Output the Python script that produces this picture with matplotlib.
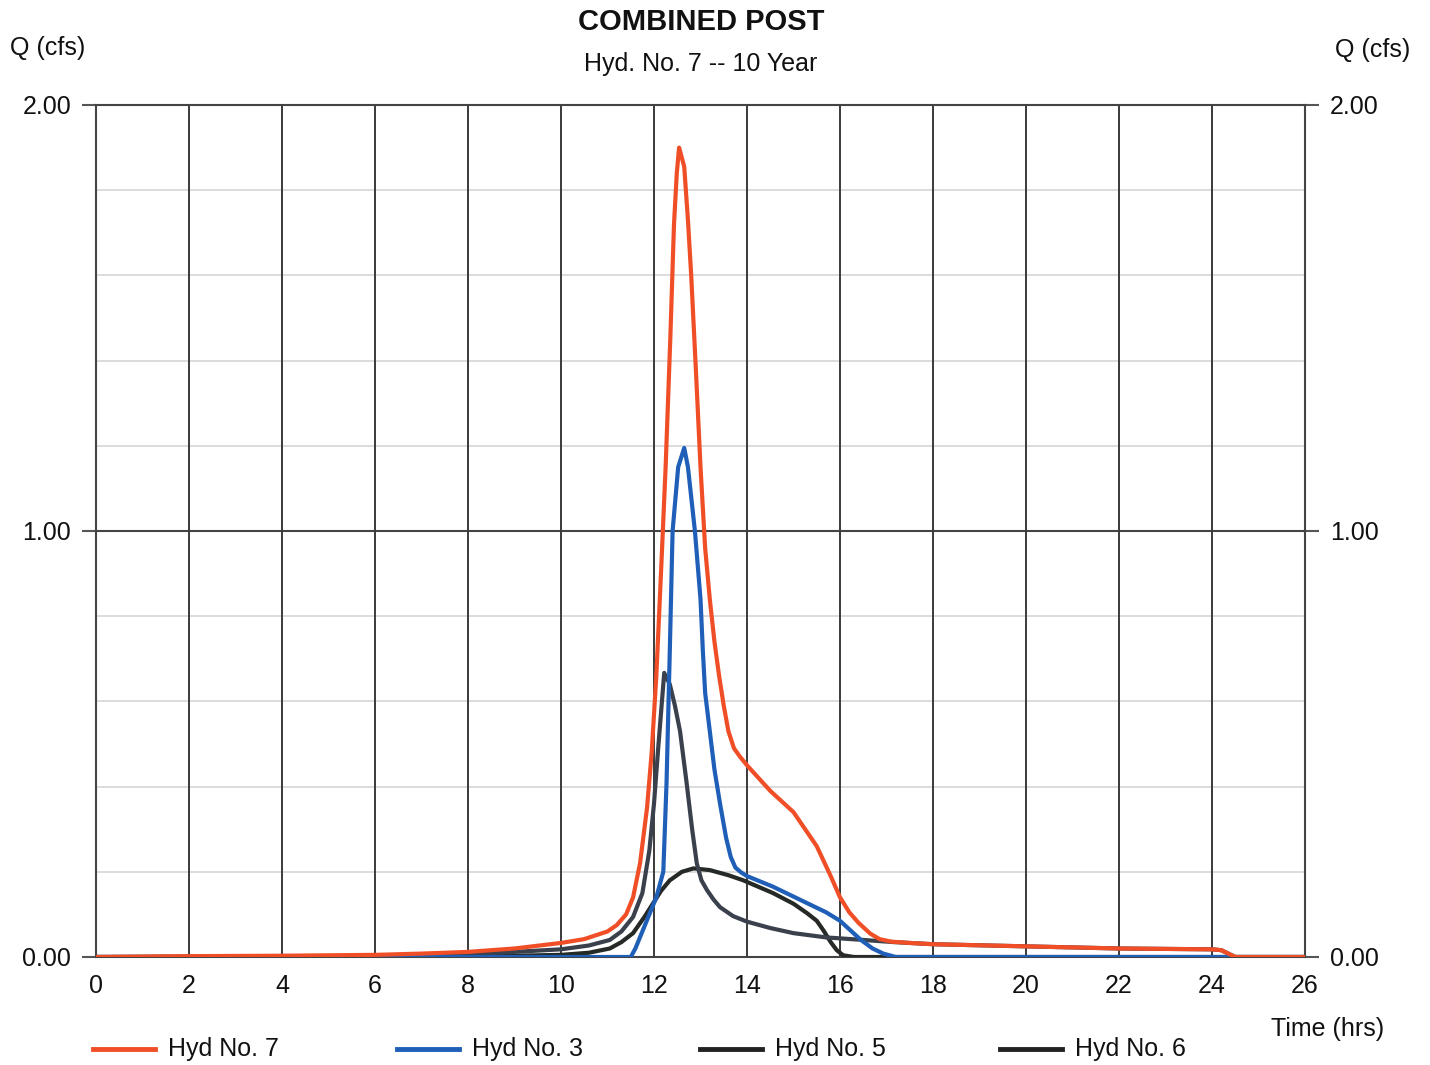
import matplotlib
matplotlib.use("Agg")
import matplotlib.pyplot as plt
from matplotlib.lines import Line2D

plt.rcParams['font.family'] = ['Liberation Sans', 'DejaVu Sans']

# ---- data ----
t7 = [0, 2, 4, 6, 7, 8, 9, 10, 10.5, 11, 11.2, 11.4, 11.55, 11.7, 11.85, 11.95, 12.05, 12.15,
      12.25, 12.35, 12.43, 12.49, 12.54, 12.65, 12.73, 12.8, 12.9, 13.0, 13.1, 13.2, 13.3, 13.4,
      13.5, 13.6, 13.72, 13.85, 14.0, 14.5, 15.0, 15.5, 15.8, 16.0, 16.2, 16.4, 16.65, 16.85,
      17.1, 17.5, 18.0, 20.0, 22.0, 24.0, 24.2, 24.5, 26]
q7 = [0.0, 0.002, 0.003, 0.005, 0.008, 0.012, 0.02, 0.033, 0.042, 0.06, 0.075, 0.10, 0.14, 0.22,
      0.35, 0.48, 0.66, 0.90, 1.15, 1.45, 1.72, 1.84, 1.90, 1.855, 1.73, 1.60, 1.38, 1.15, 0.96,
      0.84, 0.74, 0.66, 0.59, 0.53, 0.49, 0.47, 0.45, 0.39, 0.34, 0.26, 0.19, 0.14, 0.105, 0.08,
      0.055, 0.042, 0.036, 0.033, 0.03, 0.025, 0.02, 0.018, 0.016, 0.0, 0.0]

t3 = [0, 11.5, 11.6, 11.75, 11.9, 12.05, 12.15, 12.2, 12.27, 12.34, 12.4, 12.52, 12.65, 12.73,
      12.88, 13.0, 13.05, 13.1, 13.2, 13.3, 13.42, 13.55, 13.65, 13.75, 13.88, 14.0, 14.56, 15.3,
      15.7, 16.0, 16.25, 16.45, 16.7, 16.93, 17.2, 26]
q3 = [0, 0, 0.02, 0.06, 0.10, 0.14, 0.18, 0.2, 0.41, 0.72, 1.0, 1.15, 1.195, 1.15, 1.0, 0.84,
      0.72, 0.62, 0.53, 0.44, 0.36, 0.28, 0.235, 0.21, 0.198, 0.19, 0.165, 0.126, 0.105, 0.085,
      0.06, 0.04, 0.02, 0.008, 0.0, 0]

t5 = [0, 6, 8, 10, 10.6, 11.05, 11.3, 11.55, 11.75, 11.9, 12.0, 12.09, 12.22, 12.34, 12.45, 12.56,
      12.7, 12.82, 12.92, 13.02, 13.14, 13.28, 13.42, 13.7, 14.0, 14.5, 15.0, 15.7, 16.5, 17.15,
      18, 20, 22, 24, 24.2, 24.5, 26]
q5 = [0, 0.002, 0.006, 0.018, 0.027, 0.04, 0.06, 0.094, 0.15, 0.25, 0.36, 0.49, 0.667, 0.64,
      0.59, 0.53, 0.41, 0.30, 0.22, 0.18, 0.157, 0.135, 0.117, 0.096, 0.083, 0.068, 0.056, 0.046,
      0.04, 0.035, 0.03, 0.025, 0.02, 0.018, 0.016, 0, 0]

t6 = [0, 8, 10, 10.6, 11.05, 11.3, 11.55, 11.8, 11.98, 12.15, 12.34, 12.6, 12.85, 13.2, 13.6,
      13.92, 14.56, 15.0, 15.29, 15.5, 15.64, 15.8, 15.93, 16.07, 16.3, 26]
q6 = [0, 0.001, 0.005, 0.01, 0.02, 0.035, 0.056, 0.095, 0.126, 0.155, 0.18, 0.2, 0.208, 0.204,
      0.192, 0.18, 0.15, 0.125, 0.103, 0.085, 0.063, 0.035, 0.016, 0.004, 0, 0]

x_ticks = list(range(0, 27, 2))
y_major = [0.0, 1.0, 2.0]
y_minor = [0.2, 0.4, 0.6, 0.8, 1.2, 1.4, 1.6, 1.8]
y_labels = ["0.00", "1.00", "2.00"]

series_labels = ["Hyd No. 7", "Hyd No. 3", "Hyd No. 5", "Hyd No. 6"]
c7, c3, c5, c6 = '#f04e27', '#1f5fb8', '#3a404c', '#262a26'

# ---- figure ----
fig = plt.figure(figsize=(14.3, 10.65), dpi=100)
ax = fig.add_axes([96/1430, 1-957/1065, (1305-96)/1430, (957-105)/1065])

ax.set_xlim(0, 26)
ax.set_ylim(0, 2)

# grid
for y in y_minor:
    ax.axhline(y, color='#d6d6d6', lw=1.2, zorder=1)
ax.axhline(1.0, color='#444444', lw=1.5, zorder=1)
for x in x_ticks[1:-1]:
    ax.axvline(x, color='#3a3a3a', lw=1.4, zorder=1)

for s in ax.spines.values():
    s.set_color('#444444')
    s.set_linewidth(1.5)

lw = 3.0
ax.plot(t6, q6, color=c6, lw=lw, zorder=3, solid_joinstyle='round')
ax.plot(t5, q5, color=c5, lw=lw, zorder=4, solid_joinstyle='round')
ax.plot(t3, q3, color=c3, lw=lw, zorder=5, solid_joinstyle='round')
ax.plot(t7, q7, color=c7, lw=lw, zorder=6, solid_joinstyle='round')

ax.set_xticks(x_ticks)
ax.set_xticklabels([str(v) for v in x_ticks])
ax.set_yticks(y_major)
ax.set_yticklabels(y_labels)
ax.tick_params(axis='x', length=0, pad=12, labelsize=18, colors='#111111')
ax.tick_params(axis='y', length=10, width=1.5, color='#555555', pad=8, labelsize=18,
               labelcolor='#111111', right=True, labelright=True, direction='out')

# titles and axis labels
fig.text(701/1430, 1-22/1065, "COMBINED POST", ha='center', va='center',
         fontsize=21, fontweight='bold', color='#111111')
fig.text(701/1430, 1-64/1065, "Hyd. No. 7 -- 10 Year", ha='center', va='center',
         fontsize=18, color='#111111')
fig.text(10/1430, 1-48/1065, "Q (cfs)", ha='left', va='center', fontsize=18, color='#111111')
fig.text(1410/1430, 1-50/1065, "Q (cfs)", ha='right', va='center', fontsize=18, color='#111111')
fig.text(1384/1430, 1-1029/1065, "Time (hrs)", ha='right', va='center', fontsize=18, color='#111111')

# legend
leg_colors = (c7, c3, '#222222', '#222222')
leg_x = [93, 397, 700, 1000]
for col, lab, x0 in zip(leg_colors, series_labels, leg_x):
    fig.lines.append(Line2D([x0/1430, (x0+62)/1430], [1-1049/1065]*2, color=col,
                            lw=3.5, transform=fig.transFigure))
    fig.text((x0+75)/1430, 1-1049/1065, lab, ha='left', va='center', fontsize=18, color='#111111')

fig.savefig("out.png", dpi=100)
